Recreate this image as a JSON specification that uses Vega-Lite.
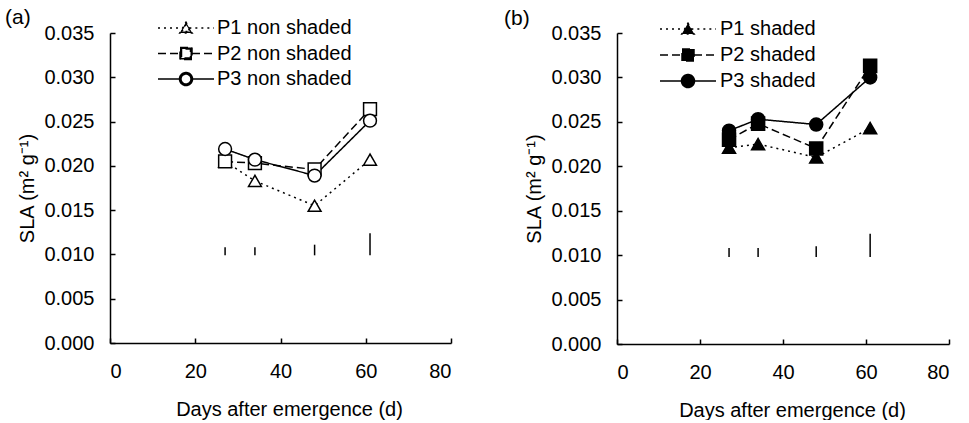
{
  "$schema": "https://vega.github.io/schema/vega-lite/v6.json",
  "padding": {"left": 5, "top": 7, "right": 5, "bottom": 0},
  "spacing": 52,
  "config": {
    "font": "Liberation Sans",
    "view": {"stroke": null},
    "axis": {
      "domainColor": "black", "tickColor": "black", "labelColor": "black", "titleColor": "black",
      "labelFontSize": 20, "titleFontSize": 20, "titleFontWeight": "normal",
      "labelFont": "Liberation Sans", "titleFont": "Liberation Sans",
      "grid": false, "tickSize": -5, "domainWidth": 1.5, "tickWidth": 1.5
    },
    "axisX": {"labelPadding": 23, "titlePadding": 18},
    "axisY": {"labelPadding": 21, "titlePadding": 6},
    "title": {"fontSize": 21, "fontWeight": "normal", "anchor": "start", "frame": "group", "color": "black", "font": "Liberation Sans"}
  },
  "datasets": {
    "a": [
      {"plot": "P1", "day": 27, "sla": 0.0205},
      {"plot": "P1", "day": 34, "sla": 0.0183},
      {"plot": "P1", "day": 48, "sla": 0.0155},
      {"plot": "P1", "day": 61, "sla": 0.0207},
      {"plot": "P2", "day": 27, "sla": 0.0205},
      {"plot": "P2", "day": 34, "sla": 0.0203},
      {"plot": "P2", "day": 48, "sla": 0.0196},
      {"plot": "P2", "day": 61, "sla": 0.0264},
      {"plot": "P3", "day": 27, "sla": 0.0219},
      {"plot": "P3", "day": 34, "sla": 0.0207},
      {"plot": "P3", "day": 48, "sla": 0.0189},
      {"plot": "P3", "day": 61, "sla": 0.0251}
    ],
    "b": [
      {"plot": "P1", "day": 27, "sla": 0.0221},
      {"plot": "P1", "day": 34, "sla": 0.0225},
      {"plot": "P1", "day": 48, "sla": 0.0210},
      {"plot": "P1", "day": 61, "sla": 0.0243},
      {"plot": "P2", "day": 27, "sla": 0.0230},
      {"plot": "P2", "day": 34, "sla": 0.0248},
      {"plot": "P2", "day": 48, "sla": 0.0220},
      {"plot": "P2", "day": 61, "sla": 0.0313},
      {"plot": "P3", "day": 27, "sla": 0.0240},
      {"plot": "P3", "day": 34, "sla": 0.0253},
      {"plot": "P3", "day": 48, "sla": 0.0247},
      {"plot": "P3", "day": 61, "sla": 0.0300}
    ],
    "bars_a": [
      {"day": 27, "lo": 0.0099, "hi": 0.0108},
      {"day": 34, "lo": 0.0099, "hi": 0.0108},
      {"day": 48, "lo": 0.0099, "hi": 0.0111},
      {"day": 61, "lo": 0.0099, "hi": 0.0124}
    ],
    "bars_b": [
      {"day": 27, "lo": 0.0098, "hi": 0.0108},
      {"day": 34, "lo": 0.0098, "hi": 0.0108},
      {"day": 48, "lo": 0.0098, "hi": 0.0110},
      {"day": 61, "lo": 0.0098, "hi": 0.0124}
    ]
  },
  "hconcat": [
    {
      "width": 341, "height": 310,
      "title": {"text": "(a)", "dx": -105, "offset": -10},
      "resolve": {"scale": {"shape": "independent", "strokeDash": "independent"}, "legend": {"shape": "independent", "strokeDash": "independent"}},
      "layer": [
        {
          "data": {"name": "bars_a"},
          "mark": {"type": "rule", "color": "black", "strokeWidth": 1.5},
          "encoding": {
            "x": {"field": "day", "type": "quantitative", "scale": {"domain": [0, 80], "nice": false},
                  "axis": {"values": [0, 20, 40, 60, 80], "format": "d", "title": "Days after emergence (d)", "titleX": 179}},
            "y": {"field": "lo", "type": "quantitative", "scale": {"domain": [0, 0.035], "nice": false},
                  "axis": {"values": [0, 0.005, 0.01, 0.015, 0.02, 0.025, 0.03, 0.035], "format": ".3f", "title": "SLA (m² g⁻¹)"}},
            "y2": {"field": "hi"}
          }
        },
        {
          "data": {"name": "a"},
          "mark": {"type": "line", "color": "black", "strokeWidth": 1.5},
          "encoding": {
            "x": {"field": "day", "type": "quantitative", "scale": {"domain": [0, 80], "nice": false}},
            "y": {"field": "sla", "type": "quantitative", "scale": {"domain": [0, 0.035], "nice": false}},
            "strokeDash": {"field": "plot", "type": "nominal", "scale": {"range": [[2, 4], [8, 4], [1, 0]]}, "legend": null}
          }
        },
        {
          "data": {"name": "a"},
          "mark": {"type": "point", "filled": true, "fill": "white", "stroke": "black", "strokeWidth": 1.5, "opacity": 1, "size": 165},
          "encoding": {
            "x": {"field": "day", "type": "quantitative", "scale": {"domain": [0, 80], "nice": false}},
            "y": {"field": "sla", "type": "quantitative", "scale": {"domain": [0, 0.035], "nice": false}},
            "shape": {"field": "plot", "type": "nominal", "scale": {"range": ["triangle-up", "square", "circle"]}, "legend": null}
          }
        },
        {
          "data": {"name": "a"},
          "transform": [{"filter": "false"}],
          "mark": {"type": "point", "filled": true, "fill": "black", "stroke": "black", "strokeWidth": 1.5, "opacity": 1, "size": 100},
          "encoding": {
            "x": {"field": "day", "type": "quantitative", "scale": {"domain": [0, 80], "nice": false}},
            "y": {"field": "sla", "type": "quantitative", "scale": {"domain": [0, 0.035], "nice": false}},
            "shape": {
              "field": "plot", "type": "nominal",
              "scale": {"domain": ["P1", "P2", "P3"], "range": [
                "M-5.6,0L-0.67,0M0.67,0L5.6,0M0,-1.15L1.25,1L-1.25,1ZM0,-0.7L-0.85,0.72L0.85,0.72Z",
                "M-5.6,0L-1.2,0M1.2,0L5.6,0M-1.2,-1.2L1.2,-1.2L1.2,1.2L-1.2,1.2ZM-0.9,-0.9L-0.9,0.9L0.9,0.9L0.9,-0.9Z",
                "M-5.6,0L-1.3,0M1.3,0L5.6,0M1.3,0A1.3,1.3 0 1,1 -1.3,0A1.3,1.3 0 1,1 1.3,0ZM1,0A1,1 0 1,0 -1,0A1,1 0 1,0 1,0Z"
              ]},
              "legend": {
                "title": null, "orient": "none", "legendX": 66, "legendY": -15, "padding": 0,
                "labelExpr": "datum.label + ' non shaded'",
                "labelFontSize": 20, "labelColor": "black", "labelFont": "Liberation Sans",
                "symbolSize": 100, "symbolStrokeWidth": 1.5, "symbolOffset": 0, "labelOffset": 21, "rowPadding": 5.5
              }
            },
            "strokeDash": {
              "field": "plot", "type": "nominal",
              "scale": {"domain": ["P1", "P2", "P3"], "range": [[2, 4], [8, 4], [1, 0]]},
              "legend": {
                "title": null, "orient": "none", "legendX": 66, "legendY": -15, "padding": 0,
                "labelExpr": "datum.label + ' non shaded'",
                "labelFontSize": 20, "labelColor": "black", "labelFont": "Liberation Sans",
                "symbolSize": 100, "symbolStrokeWidth": 1.5, "symbolOffset": 0, "labelOffset": 21, "rowPadding": 5.5
              }
            }
          }
        }
      ]
    },
    {
      "width": 332, "height": 311,
      "title": {"text": "(b)", "dx": -113, "offset": -10},
      "resolve": {"scale": {"shape": "independent", "strokeDash": "independent"}, "legend": {"shape": "independent", "strokeDash": "independent"}},
      "layer": [
        {
          "data": {"name": "bars_b"},
          "mark": {"type": "rule", "color": "black", "strokeWidth": 1.5},
          "encoding": {
            "x": {"field": "day", "type": "quantitative", "scale": {"domain": [0, 80], "nice": false},
                  "axis": {"values": [0, 20, 40, 60, 80], "format": "d", "title": "Days after emergence (d)", "titleX": 175}},
            "y": {"field": "lo", "type": "quantitative", "scale": {"domain": [0, 0.035], "nice": false},
                  "axis": {"values": [0, 0.005, 0.01, 0.015, 0.02, 0.025, 0.03, 0.035], "format": ".3f", "title": "SLA (m² g⁻¹)"}},
            "y2": {"field": "hi"}
          }
        },
        {
          "data": {"name": "b"},
          "mark": {"type": "line", "color": "black", "strokeWidth": 1.5},
          "encoding": {
            "x": {"field": "day", "type": "quantitative", "scale": {"domain": [0, 80], "nice": false}},
            "y": {"field": "sla", "type": "quantitative", "scale": {"domain": [0, 0.035], "nice": false}},
            "strokeDash": {"field": "plot", "type": "nominal", "scale": {"range": [[2, 4], [8, 4], [1, 0]]}, "legend": null}
          }
        },
        {
          "data": {"name": "b"},
          "mark": {"type": "point", "filled": true, "fill": "black", "stroke": "black", "strokeWidth": 1.5, "opacity": 1, "size": 170},
          "encoding": {
            "x": {"field": "day", "type": "quantitative", "scale": {"domain": [0, 80], "nice": false}},
            "y": {"field": "sla", "type": "quantitative", "scale": {"domain": [0, 0.035], "nice": false}},
            "shape": {"field": "plot", "type": "nominal", "scale": {"range": ["triangle-up", "square", "circle"]}, "legend": null}
          }
        },
        {
          "data": {"name": "b"},
          "transform": [{"filter": "false"}],
          "mark": {"type": "point", "filled": true, "fill": "black", "stroke": "black", "strokeWidth": 1.5, "opacity": 1, "size": 100},
          "encoding": {
            "x": {"field": "day", "type": "quantitative", "scale": {"domain": [0, 80], "nice": false}},
            "y": {"field": "sla", "type": "quantitative", "scale": {"domain": [0, 0.035], "nice": false}},
            "shape": {
              "field": "plot", "type": "nominal",
              "scale": {"domain": ["P1", "P2", "P3"], "range": [
                "M-5.6,0L-0.67,0M0.67,0L5.6,0M0,-1.15L1.25,1L-1.25,1Z",
                "M-5.6,0L-1.2,0M1.2,0L5.6,0M-1.2,-1.2L1.2,-1.2L1.2,1.2L-1.2,1.2Z",
                "M-5.6,0L-1.3,0M1.3,0L5.6,0M1.3,0A1.3,1.3 0 1,1 -1.3,0A1.3,1.3 0 1,1 1.3,0Z"
              ]},
              "legend": {
                "title": null, "orient": "none", "legendX": 61, "legendY": -14, "padding": 0,
                "labelExpr": "datum.label + ' shaded'",
                "labelFontSize": 20, "labelColor": "black", "labelFont": "Liberation Sans",
                "symbolSize": 100, "symbolStrokeWidth": 1.5, "symbolOffset": 0, "labelOffset": 22, "rowPadding": 6
              }
            },
            "strokeDash": {
              "field": "plot", "type": "nominal",
              "scale": {"domain": ["P1", "P2", "P3"], "range": [[2, 4], [8, 4], [1, 0]]},
              "legend": {
                "title": null, "orient": "none", "legendX": 61, "legendY": -14, "padding": 0,
                "labelExpr": "datum.label + ' shaded'",
                "labelFontSize": 20, "labelColor": "black", "labelFont": "Liberation Sans",
                "symbolSize": 100, "symbolStrokeWidth": 1.5, "symbolOffset": 0, "labelOffset": 22, "rowPadding": 6
              }
            }
          }
        }
      ]
    }
  ]
}
